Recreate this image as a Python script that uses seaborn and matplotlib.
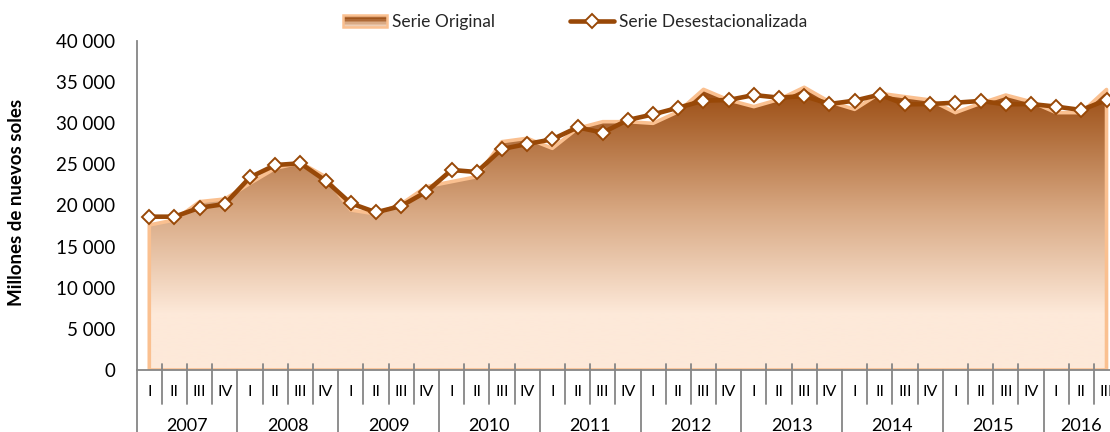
import matplotlib
matplotlib.use("Agg")
import matplotlib.pyplot as plt
import seaborn as sns
import numpy as np
import pandas as pd
from matplotlib.colors import LinearSegmentedColormap
from matplotlib.patches import Rectangle
from matplotlib.legend_handler import HandlerBase
from matplotlib.ticker import FuncFormatter
import matplotlib.transforms as mtransforms

# ---------------- data ----------------
years = ["2007", "2008", "2009", "2010", "2011", "2012", "2013", "2014", "2015", "2016"]
quarters_per_year = [4, 4, 4, 4, 4, 4, 4, 4, 4, 3]
quarter_names = ["I", "II", "III", "IV"]

serie_original = [17630, 18240, 20470, 20790,
                  22700, 24520, 25200, 23500,
                  19450, 18970, 20180, 22290,
                  22900, 23500, 27760, 28170,
                  26950, 29380, 30190, 30190,
                  29990, 31410, 34120, 32830,
                  32020, 32900, 34370, 32620,
                  31690, 33640, 33230, 32830,
                  31290, 32420, 33430, 32620,
                  31290, 31290, 34100]

serie_desest = [18640, 18640, 19730, 20180,
                23430, 24920, 25130, 23020,
                20260, 19170, 19940, 21680,
                24320, 24070, 26870, 27480,
                28050, 29500, 28860, 30400,
                31080, 31890, 32750, 32830,
                33430, 33110, 33310, 32340,
                32750, 33480, 32300, 32340,
                32500, 32710, 32300, 32340,
                32020, 31610, 32830]

yticks = list(range(0, 40001, 5000))

# ---------------- style ----------------
sns.set_style("white")
plt.rcParams['font.family'] = ['Lato', 'DejaVu Sans']

BROWN = '#984807'
EDGE = '#FAC090'
GRAY = '#868686'

q_labels = []
year_of = []
for y, n in zip(years, quarters_per_year):
    for k in range(n):
        q_labels.append(quarter_names[k])
        year_of.append(y)

df = pd.DataFrame({
    "idx": np.arange(len(serie_original)),
    "trim": q_labels,
    "anio": year_of,
    "original": serie_original,
    "desest": serie_desest,
})

W, H = 1110, 432
fig = plt.figure(figsize=(W / 100, H / 100), dpi=100)
x0_px, base_px, top_px = 136.7, 370, 41
ax = fig.add_axes([x0_px / W, (H - base_px) / H, 1 - x0_px / W, (base_px - top_px) / H])
ax_h_px = base_px - top_px

grad_cmap = LinearSegmentedColormap.from_list(
    "grad", [(0.0, '#FDE9D9'), (0.2, '#FDE9D9'), (0.55, '#D9AA85'), (1.0, '#9A4B10')])

# ---------------- area (Serie Original) with gradient ----------------
poly = ax.fill_between(df["idx"], df["original"], 0, facecolor='none',
                       edgecolor=EDGE, linewidth=2.6, zorder=2)
grad = np.linspace(0, 1, 256).reshape(-1, 1)
im = ax.imshow(grad, extent=(df["idx"].iloc[0], df["idx"].iloc[-1], 0, max(serie_original)),
               origin='lower', aspect='auto', cmap=grad_cmap, zorder=1, interpolation='bilinear')
im.set_clip_path(poly.get_paths()[0], ax.transData)

# ---------------- line (Serie Desestacionalizada) ----------------
sns.lineplot(data=df, x="idx", y="desest", ax=ax, color=BROWN, linewidth=3.3,
             marker='D', markersize=7.5, markerfacecolor='white', markeredgecolor=BROWN,
             markeredgewidth=1.4, zorder=4, legend=False)
line = ax.lines[-1]

# ---------------- axes ----------------
ax.set_xlim(-0.5, -0.5 + (W - x0_px) / 25.19)
ax.set_ylim(0, 40000)
for s in ['top', 'right']:
    ax.spines[s].set_visible(False)
for s in ['left', 'bottom']:
    ax.spines[s].set_color(GRAY)
    ax.spines[s].set_linewidth(1.3)
    ax.spines[s].set_zorder(5)

ax.set_yticks(yticks)
ax.yaxis.set_major_formatter(FuncFormatter(lambda v, p: f"{int(v):,}".replace(",", " ")))
ax.tick_params(axis='y', direction='inout', length=10, width=1.2, color=GRAY,
               labelsize=13.5, pad=10.5, labelcolor='black')
ax.set_xticks([])
ax.set_xlabel("")
ax.set_ylabel("")

trans = mtransforms.blended_transform_factory(ax.transData, ax.transAxes)
n = len(df)
px = 1.0 / ax_h_px
# separators
for i in range(n + 1):
    xb = i - 0.5
    if i < n and df["trim"].iloc[i] == "I":
        ax.plot([xb, xb], [0, -70 * px], transform=trans, clip_on=False,
                color=GRAY, lw=1.3, zorder=5)
    else:
        ax.plot([xb, xb], [6 * px, -34 * px], transform=trans, clip_on=False,
                color=GRAY, lw=1.3, zorder=5)
# quarter labels
for i in range(n):
    ax.text(i, -22 * px, df["trim"].iloc[i], transform=trans, ha='center', va='center',
            fontsize=11.5, color='black')
# year labels
for y in years:
    pos = df.loc[df["anio"] == y, "idx"].mean()
    ax.text(pos, -56 * px, y, transform=trans, ha='center', va='center',
            fontsize=13, color='black')

fig.text(17 / W, 1 - 202 / H, "Millones de nuevos soles", rotation=90, ha='center',
         va='center', fontsize=13.5, fontweight='bold', color='black')


# ---------------- legend ----------------
class GradHandler(HandlerBase):
    def create_artists(self, legend, orig_handle, xdescent, ydescent, width, height,
                       fontsize, trans):
        arts = []
        m = 8
        vals = [0.75, 0.85, 0.95, 0.85, 0.7, 0.55, 0.45, 0.35]
        for k in range(m):
            r = Rectangle((-xdescent, -ydescent + height * (1 - (k + 1) / m)), width, height / m,
                          facecolor=grad_cmap(vals[k]), edgecolor='none', transform=trans)
            arts.append(r)
        border = Rectangle((-xdescent, -ydescent), width, height, facecolor='none',
                           edgecolor=EDGE, linewidth=1.8, transform=trans)
        arts.append(border)
        return arts


area_proxy = Rectangle((0, 0), 1, 1)
fig.legend(handles=[area_proxy, line], labels=["Serie Original", "Serie Desestacionalizada"],
           loc='center left', bbox_to_anchor=(327 / W, 1 - 22 / H), ncol=2, frameon=False,
           fontsize=12.5, handlelength=2.55, handletextpad=0.3, columnspacing=4.3,
           handler_map={area_proxy: GradHandler()})

fig.savefig("out.png", dpi=100)
